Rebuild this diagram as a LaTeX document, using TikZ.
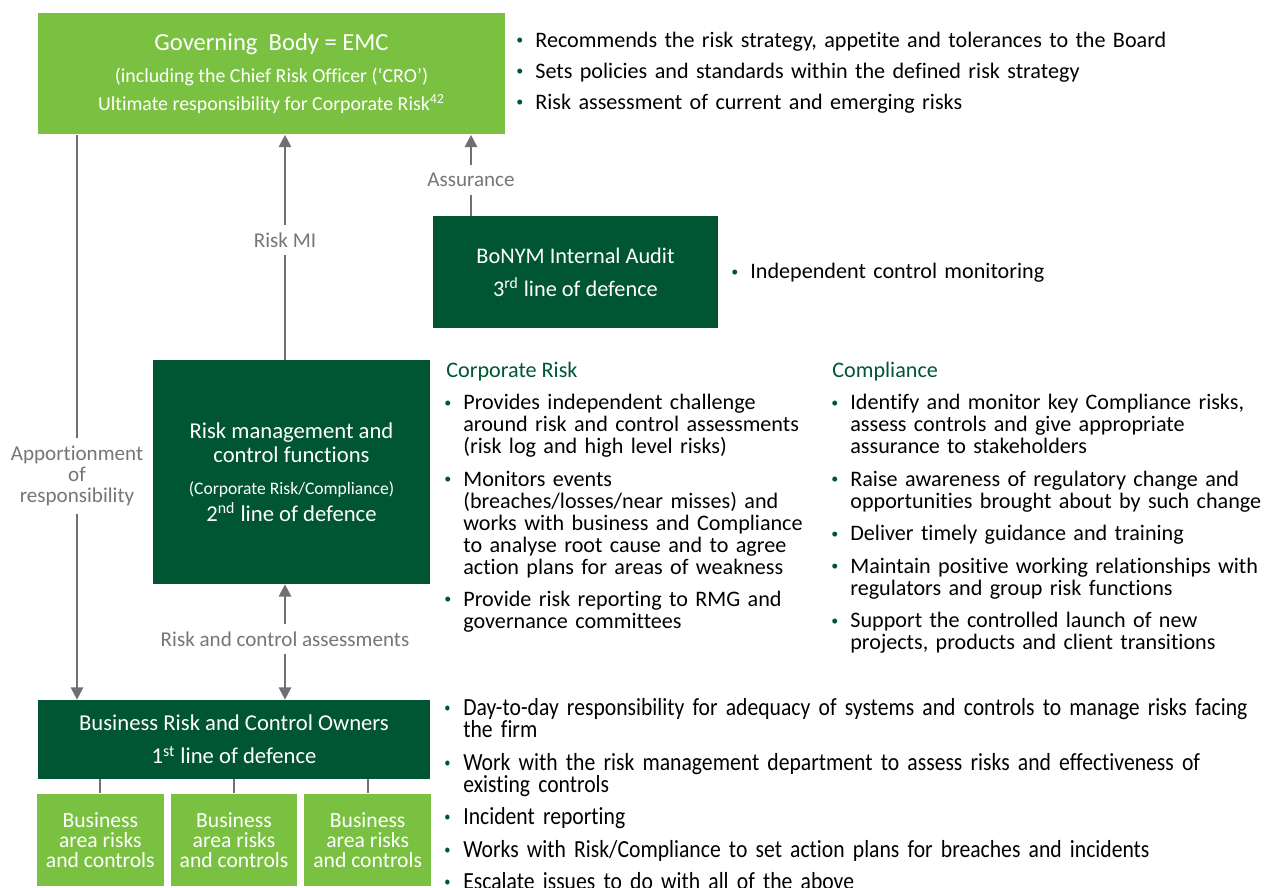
\documentclass[tikz,border=0pt]{standalone}
\usepackage{fontspec}
\setmainfont{Carlito}[Ligatures=NoCommon]
\newfontfamily\narrowfont{Carlito}[FakeStretch=0.88, Ligatures=NoCommon]
\usetikzlibrary{positioning,arrows.meta}
\definecolor{leafgreen}{RGB}{122,193,66}
\definecolor{pinegreen}{RGB}{0,85,50}
\definecolor{arrowgrey}{RGB}{112,112,112}
\definecolor{labelgrey}{RGB}{118,118,118}
\newcommand{\bitem}[1]{\par\hangindent=0.38cm\hangafter=1\noindent
  \hbox to 0.38cm{\textcolor{pinegreen}{\raisebox{0.12em}{\fontsize{8}{8}\selectfont\textbullet}}\hss}#1}

\begin{document}
\begin{tikzpicture}[x=0.02cm, y=-0.02cm,
  govbox/.style={rectangle, fill=leafgreen, text=white, minimum width=9.34cm, minimum height=2.44cm,
                 align=center, inner sep=0pt},
  linebox/.style={rectangle, fill=pinegreen, text=white, align=center, inner sep=0pt},
  areabox/.style={rectangle, fill=leafgreen, text=white, minimum width=2.54cm, minimum height=1.84cm,
                  align=center, inner sep=0pt, font=\fontsize{12.3}{11.4}\selectfont},
  flow/.style={draw=arrowgrey, line width=1.2pt, -{Triangle[length=7pt,width=7pt]}},
  twoway/.style={draw=arrowgrey, line width=1.2pt, {Triangle[length=7pt,width=7pt]}-{Triangle[length=7pt,width=7pt]}},
  tie/.style={draw=arrowgrey, line width=1.2pt},
  tag/.style={fill=white, text=labelgrey, inner sep=4.5pt, align=center, font=\fontsize{12}{12}\selectfont},
  bullets/.style={anchor=north west, inner sep=0pt, text width=16cm,
                  font=\fontsize{12.6}{12.5}\selectfont\setlength{\parskip}{6pt}},
  head/.style={anchor=north west, inner sep=0pt, text=pinegreen, font=\fontsize{12.6}{12.5}\selectfont}
]
\useasboundingbox (0,0) rectangle (1264,888);

\node[govbox, font=\fontsize{11.3}{16}\selectfont] (gov) at (271.5,73.5)
  {{\fontsize{14}{16}\selectfont Governing\ \ Body = EMC}\\[2.3pt]
   (including the Chief Risk Officer (‘CRO’)\\
   Ultimate responsibility for Corporate Risk\textsuperscript{42}};
\node[linebox, minimum width=5.7cm, minimum height=2.24cm, font=\fontsize{12.7}{18.7}\selectfont] (audit) at (575.5,272)
  {BoNYM Internal Audit\\
   3\textsuperscript{rd} line of defence};
\node[linebox, minimum width=5.54cm, minimum height=4.48cm, font=\fontsize{12.9}{14}\selectfont] (second) at (291.5,472)
  {Risk management and\\
   control functions\\[4pt]
   {\fontsize{10}{14}\selectfont (Corporate Risk/Compliance)}\\[1.3pt]
   2\textsuperscript{nd} line of defence};
\node[linebox, minimum width=7.84cm, minimum height=1.58cm, font=\fontsize{12.9}{18.7}\selectfont] (biz) at (234,739.5)
  {Business Risk and Control Owners\\
   1\textsuperscript{st} line of defence};

\node[areabox, below=0.28cm of biz] (area2) {Business\\area risks\\and controls};
\node[areabox, left=0.12cm of area2] (area1) {Business\\area risks\\and controls};
\node[areabox, right=0.12cm of area2] (area3) {Business\\area risks\\and controls};
\foreach \a in {area1,area2,area3}
  \draw[tie] (biz.south -| \a.north) -- (\a.north);

\coordinate (apx) at (77,0);
\coordinate (mix) at (285,0);
\coordinate (asx) at (471,0);
\draw[flow] (gov.south -| apx) -- (biz.north -| apx);
\draw[flow] (second.north -| mix) -- (gov.south -| mix);
\draw[flow] (audit.north -| asx) -- (gov.south -| asx);
\draw[twoway] (second.south -| mix) -- (biz.north -| mix);
\node[tag] (apport) at (77,476) {Apportionment\\of\\responsibility};
\node[tag] (riskmi) at (285,240) {Risk MI};
\node[tag] (assur) at (471,180) {Assurance};
\node[tag] (rca) at (285,639) {Risk and control assessments};

\node[bullets, font=\fontsize{12.6}{12.5}\selectfont\setlength{\parskip}{5.1pt}] (govlist) at (516,16)
  {\bitem{Recommends the risk strategy, appetite and tolerances to the Board}
   \bitem{Sets policies and standards within the defined risk strategy}
   \bitem{Risk assessment of current and emerging risks}\par};
\node[bullets] (auditlist) at (731,246) {\bitem{Independent control monitoring}\par};

\node[head] (corphead) at (446,362) {Corporate Risk};
\node[bullets] (corplist) at (444,377)
  {\bitem{Provides independent challenge\newline around risk and control assessments\newline (risk log and high level risks)}
   \bitem{Monitors events\newline (breaches/losses/near misses) and\newline works with business and Compliance\newline to analyse root cause and to agree\newline action plans for areas of weakness}
   \bitem{Provide risk reporting to RMG and\newline governance committees}\par};

\node[head] (comphead) at (832,362) {Compliance};
\node[bullets] (complist) at (831,377)
  {\bitem{Identify and monitor key Compliance risks,\newline assess controls and give appropriate\newline assurance to stakeholders}
   \bitem{Raise awareness of regulatory change and\newline opportunities brought about by such change}
   \bitem{Deliver timely guidance and training}
   \bitem{Maintain positive working relationships with\newline regulators and group risk functions}
   \bitem{Support the controlled launch of new\newline projects, products and client transitions}\par};

\node[bullets, text width=19cm, font=\narrowfont\fontsize{14}{12.5}\selectfont\setlength{\parskip}{6pt}] (bizlist) at (444,683)
  {\bitem{Day-to-day responsibility for adequacy of systems and controls to manage risks facing\newline the firm}
   \bitem{Work with the risk management department to assess risks and effectiveness of\newline existing controls}
   \bitem{Incident reporting}
   \bitem{Works with Risk/Compliance to set action plans for breaches and incidents}
   \bitem{Escalate issues to do with all of the above}\par};
\end{tikzpicture}
\end{document}
